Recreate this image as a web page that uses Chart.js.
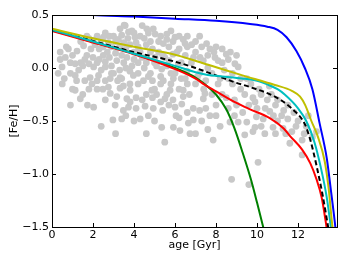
<!DOCTYPE html>
<html>
<head>
<meta charset="utf-8">
<script src="https://cdn.jsdelivr.net/npm/chart.js@4.4.0/dist/chart.umd.min.js"></script>
<style>
  html, body { margin: 0; padding: 0; background: #fff; }
</style>
</head>
<body>
<canvas id="myChart" width="349" height="262"></canvas>
<script>
// stars: age [Gyr] and [Fe/H]
const scatterAge = [7.86, 8.76, 9.6, 10.05, 9.4, 12.2, 1.13, 1.38, 1.73, 2.03, 2.48, 2.75, 3.08, 2.97, 3.4, 3.48, 3.73, 3.81, 4.1, 3.81,
    4.54, 3.16, 2.84, 3.32, 3.65, 4.94, 5.35, 5.92, 6.24, 6.73, 7.0, 6.65, 6.89, 6.89, 6.0, 6.33, 6.05, 6.4, 7.38, 7.46,
    8.6, 9.08, 9.5, 8.68, 4.87, 5.76, 5.51, 6.4, 9.97, 9.9, 10.38, 10.3, 10.62, 10.78, 11.27, 11.6, 12.9, 11.0, 4.94, 5.03,
    5.43, 6.0, 6.4, 6.81, 7.54, 7.22, 7.38, 7.95, 8.1, 8.6, 8.92, 9.08, 6.16, 5.43, 5.92, 6.57, 5.35, 5.03, 3.57, 3.32,
    3.73, 4.62, 4.05, 3.24, 2.75, 2.51, 1.54, 1.22, 1.7, 0.65, 0.89, 0.49, 1.13, 1.13, 1.86, 2.27, 2.6, 3.16, 3.65, 2.84,
    3.32, 3.97, 4.46, 3.48, 2.03, 1.95, 1.4, 1.8, 2.1, 2.3, 2.5, 2.7, 2.9, 3.0, 3.1, 3.3, 3.5, 3.6, 3.8, 4.0,
    4.2, 4.3, 4.4, 4.6, 4.8, 4.2, 3.9, 3.6, 3.3, 2.9, 2.6, 2.3, 2.0, 1.8, 1.5, 1.3, 1.0, 0.8, 0.4, 0.3,
    0.6, 1.6, 2.2, 2.6, 3.0, 3.4, 3.8, 4.2, 4.5, 4.8, 5.0, 5.2, 5.5, 5.7, 5.9, 6.2, 6.5, 6.8, 7.0, 5.6,
    5.8, 6.3, 6.6, 7.1, 7.5, 7.8, 8.2, 8.4, 8.8, 9.2, 9.5, 9.8, 10.2, 10.5, 10.9, 11.3, 11.5, 11.9, 12.3, 12.5,
    11.7, 10.8, 10.0, 9.6, 9.3, 8.9, 8.3, 8.0, 7.7, 7.3, 7.6, 8.2, 5.1, 5.4, 4.7, 4.3, 4.0, 5.0, 5.7, 4.4,
    4.9, 5.3, 2.2, 2.6, 3.9, 4.4, 5.3, 5.8, 6.6, 7.2, 7.7, 8.3, 8.7, 9.0, 1.0, 0.5, 1.5, 0.9, 4.6, 5.5,
    3.1, 2.4, 10.6, 6.49, 3.52, 1.6, 1.9, 2.2, 2.4, 2.5, 2.8, 2.9, 3.1, 3.2, 3.4, 3.5, 3.7, 3.8, 4.0, 4.1,
    4.2, 4.3, 4.5, 4.6, 4.7, 4.8, 4.9, 5.0, 5.1, 5.2, 5.3, 5.4, 5.6, 5.6, 5.7, 5.8, 5.9, 6.0, 6.1, 6.2,
    6.3, 6.5, 6.6, 6.7, 6.9, 7.0, 7.2, 7.3, 7.4, 7.6, 7.8, 7.9, 8.1, 8.3, 8.5, 8.6, 8.8, 9.0, 9.2, 9.4,
    9.7, 9.9, 10.1, 10.4, 10.7, 11.0, 11.2, 11.5, 11.8, 12.0, 12.2, 12.4, 12.7, 10.2, 10.9, 11.4, 9.8, 8.9, 8.0, 7.5,
    7.2, 6.6, 6.2, 5.9, 5.3, 4.9, 4.6, 4.1, 3.6, 2.6, 2.2, 1.8, 1.2, 0.7, 0.9, 1.4, 0.4, 1.7, 2.0, 2.4,
    2.8, 3.4, 4.0, 4.7, 5.6, 6.2, 7.0, 7.6, 8.0, 8.5];
const scatterFeH = [-0.68, -1.05, -1.1, -0.89, -0.63, -0.82, -0.21, -0.29, -0.35, -0.37, -0.2, -0.18, -0.35, -0.49, -0.48, -0.4, -0.37, -0.32, -0.28, -0.21,
    -0.36, -0.27, -0.24, -0.19, -0.29, -0.38, -0.56, -0.56, -0.59, -0.62, -0.62, -0.52, -0.49, -0.38, -0.37, -0.34, -0.45, -0.27, -0.29, -0.24,
    -0.38, -0.51, -0.51, -0.51, -0.21, -0.21, -0.29, -0.21, -0.46, -0.56, -0.62, -0.48, -0.41, -0.56, -0.57, -0.71, -0.6, -0.5, 0.37, 0.32,
    0.23, 0.29, 0.27, 0.22, 0.23, 0.1, 0.07, 0.1, 0.07, 0.08, 0.04, 0.01, 0.04, -0.12, -0.1, -0.03, -0.01, 0.1, 0.4, 0.37,
    0.34, 0.37, 0.29, 0.27, 0.24, 0.29, 0.21, 0.16, 0.12, 0.1, 0.05, 0.01, 0.04, -0.07, -0.09, -0.07, 0.01, 0.07, 0.1, -0.1,
    -0.09, -0.07, -0.12, -0.17, 0.01, -0.15, 0.25, 0.28, 0.22, 0.18, 0.12, 0.15, 0.2, 0.3, 0.14, 0.2, 0.24, 0.18, 0.22, 0.15,
    0.2, 0.3, 0.1, 0.22, 0.15, 0.05, 0.02, 0.0, -0.02, 0.02, 0.06, 0.08, 0.1, 0.04, 0.02, -0.02, 0.12, 0.18, 0.08, -0.05,
    -0.1, -0.12, -0.2, -0.12, -0.05, -0.1, -0.15, -0.05, 0.0, -0.05, 0.05, 0.15, 0.1, 0.2, 0.13, 0.18, 0.12, 0.05, 0.15, 0.02,
    -0.05, -0.1, -0.15, -0.08, -0.12, -0.05, -0.1, -0.02, -0.15, -0.2, -0.1, -0.28, -0.25, -0.3, -0.35, -0.4, -0.48, -0.55, -0.62, -0.45,
    -0.6, -0.45, -0.38, -0.35, -0.42, -0.3, -0.25, -0.35, -0.45, -0.5, -0.58, -0.55, -0.25, -0.4, -0.45, -0.48, -0.5, -0.5, -0.35, -0.3,
    -0.12, -0.08, 0.3, 0.33, 0.35, 0.4, 0.3, 0.35, 0.3, 0.3, 0.18, 0.18, 0.15, 0.12, -0.2, -0.15, -0.25, -0.35, -0.62, -0.7,
    -0.62, -0.55, -0.17, 0.23, 0.405, 0.08, 0.18, 0.05, -0.02, 0.2, 0.1, -0.05, 0.25, -0.12, 0.12, 0.05, 0.28, -0.03, 0.08, 0.24,
    -0.15, 0.15, 0.28, 0.05, -0.08, 0.25, 0.18, -0.2, 0.02, 0.25, -0.15, 0.12, 0.27, -0.25, 0.07, -0.15, 0.25, -0.05, 0.15, -0.2,
    0.05, -0.1, 0.2, -0.25, 0.1, -0.15, -0.05, 0.2, -0.2, 0.0, -0.25, 0.15, -0.15, 0.05, -0.28, -0.1, -0.05, -0.35, -0.1, -0.25,
    -0.15, -0.32, -0.2, -0.38, -0.25, -0.3, -0.45, -0.35, -0.42, -0.5, -0.68, -0.55, -0.65, -0.55, -0.62, -0.62, -0.6, -0.45, -0.45, -0.38,
    -0.4, -0.42, -0.47, -0.3, -0.32, -0.28, -0.25, -0.38, -0.45, -0.3, -0.12, -0.2, -0.12, 0.2, -0.05, 0.05, 0.15, 0.3, 0.26, 0.27,
    0.3, 0.31, 0.33, 0.33, 0.32, 0.3, 0.25, 0.12, 0.2, 0.13];

// model tracks
const blueAge = [0, 2, 4, 6, 8, 9.66, 10.5, 11, 11.44, 11.92, 12.33, 12.7, 13.05, 13.4, 13.6, 13.82, 13.9];
const blueFeH = [0.53, 0.5, 0.485, 0.465, 0.445, 0.415, 0.39, 0.36, 0.29, 0.16, 0.0, -0.2, -0.52, -0.85, -1.15, -1.5, -1.65];
const yellowAge = [0, 2, 4, 6, 7.62, 9.25, 10.87, 11.7, 12.1, 12.35, 12.65, 12.97, 13.3, 13.5, 13.65, 13.75];
const yellowFeH = [0.37, 0.28, 0.2, 0.125, 0.03, -0.067, -0.16, -0.215, -0.27, -0.35, -0.5, -0.65, -0.88, -1.15, -1.45, -1.6];
const cyanAge = [0, 2, 4, 6, 7, 7.6, 8.3, 9.25, 10, 10.5, 11, 11.35, 12, 12.4, 12.8, 13.1, 13.4, 13.6, 13.7];
const cyanFeH = [0.36, 0.25, 0.135, 0.02, -0.04, -0.065, -0.08, -0.098, -0.12, -0.155, -0.2, -0.25, -0.38, -0.5, -0.7, -0.93, -1.22, -1.5, -1.65];
const blackAge = [0, 2, 4, 6, 7, 8, 9, 9.66, 10.87, 11.68, 12.33, 12.6, 12.9, 13.2, 13.45, 13.6];
const blackFeH = [0.36, 0.255, 0.15, 0.06, 0.0, -0.07, -0.14, -0.18, -0.27, -0.38, -0.53, -0.68, -0.92, -1.2, -1.48, -1.65];
const redAge = [0, 2, 4, 6, 7, 7.46, 8, 9, 9.66, 10.6, 11.3, 11.6, 12.2, 12.6, 12.9, 13.15, 13.35, 13.5];
const redFeH = [0.35, 0.24, 0.13, -0.01, -0.1, -0.16, -0.22, -0.33, -0.39, -0.47, -0.57, -0.64, -0.77, -0.9, -1.05, -1.22, -1.45, -1.65];
const greenAge = [0, 2, 4, 6, 7, 7.5, 8, 8.5, 8.9, 9.3, 9.7, 10.0, 10.3, 10.5];
const greenFeH = [0.355, 0.245, 0.135, 0.0, -0.09, -0.16, -0.25, -0.39, -0.57, -0.8, -1.05, -1.27, -1.5, -1.66];

const xTickValues = [0, 2, 4, 6, 8, 10, 12];
const yTickValues = [-1.5, -1.0, -0.5, 0.0, 0.5];

function pts(xs, ys) {
    return xs.map((v, i) => ({x: v, y: ys[i]}));
}

function track(label, xs, ys, color, dash) {
    return {
        type: 'line',
        label: label,
        data: pts(xs, ys),
        borderColor: color,
        borderWidth: 2,
        borderDash: dash || [],
        pointRadius: 0,
        fill: false,
        cubicInterpolationMode: 'monotone',
        clip: 0,
        order: 1
    };
}

// matplotlib style: ticks pointing inwards on all four sides + black frame
const frameTicks = {
    id: 'frameTicks',
    afterDatasetsDraw(chart) {
        const {ctx, chartArea: a, scales} = chart;
        ctx.save();
        ctx.strokeStyle = '#000';
        ctx.lineWidth = 1;
        ctx.beginPath();
        xTickValues.forEach(v => {
            const px = Math.round(scales.x.getPixelForValue(v)) + 0.5;
            ctx.moveTo(px, a.bottom); ctx.lineTo(px, a.bottom - 4);
            ctx.moveTo(px, a.top); ctx.lineTo(px, a.top + 4);
        });
        yTickValues.forEach(v => {
            const py = Math.round(scales.y.getPixelForValue(v)) + 0.5;
            ctx.moveTo(a.left, py); ctx.lineTo(a.left + 4, py);
            ctx.moveTo(a.right, py); ctx.lineTo(a.right - 4, py);
        });
        ctx.stroke();
        ctx.strokeRect(Math.round(a.left) + 0.5, Math.round(a.top) + 0.5,
            Math.round(a.right - a.left), Math.round(a.bottom - a.top));
        ctx.restore();
    }
};

const font = {family: 'DejaVu Sans', size: 11};

const data = {
    datasets: [
        {
            type: 'scatter',
            label: 'stars',
            data: pts(scatterAge, scatterFeH),
            backgroundColor: '#c8c8c8',
            borderWidth: 0,
            pointRadius: 3.4,
            clip: 0,
            order: 10
        },
        track('blue', blueAge, blueFeH, '#0000ff'),
        track('yellow', yellowAge, yellowFeH, '#bfbf00'),
        track('cyan', cyanAge, cyanFeH, '#00bfbf'),
        track('black', blackAge, blackFeH, '#000000', [5, 3]),
        track('red', redAge, redFeH, '#ff0000'),
        track('green', greenAge, greenFeH, '#008000')
    ]
};

const config = {
    type: 'scatter',
    data: data,
    options: {
        responsive: false,
        devicePixelRatio: 1,
        animation: false,
        layout: {padding: {left: 0, top: 15, right: 12, bottom: 0}},
        plugins: {legend: {display: false}, tooltip: {enabled: false}},
        scales: {
            x: {
                type: 'linear',
                min: 0,
                max: 13.9,
                grid: {display: false, drawTicks: false, tickLength: 0},
                border: {display: false},
                afterBuildTicks: s => { s.ticks = xTickValues.map(v => ({value: v})); },
                afterFit: s => { s.height = 35; },
                ticks: {font: font, color: '#000', padding: 2, maxRotation: 0,
                    callback: v => String(v)},
                title: {display: true, text: 'age [Gyr]', font: font, color: '#000',
                    padding: {top: 0, bottom: 10}}
            },
            y: {
                type: 'linear',
                min: -1.5,
                max: 0.5,
                grid: {display: false, drawTicks: false, tickLength: 0},
                border: {display: false},
                afterBuildTicks: s => { s.ticks = yTickValues.map(v => ({value: v})); },
                afterFit: s => { s.width = 52; },
                ticks: {font: font, color: '#000', padding: 3,
                    callback: v => v.toFixed(1).replace('-', '\u2212')},
                title: {display: true, text: '[Fe/H]', font: font, color: '#000',
                    padding: {top: 8, bottom: 0}}
            }
        }
    },
    plugins: [frameTicks]
};

const myChart = new Chart(document.getElementById('myChart'), config);
</script>
</body>
</html>
